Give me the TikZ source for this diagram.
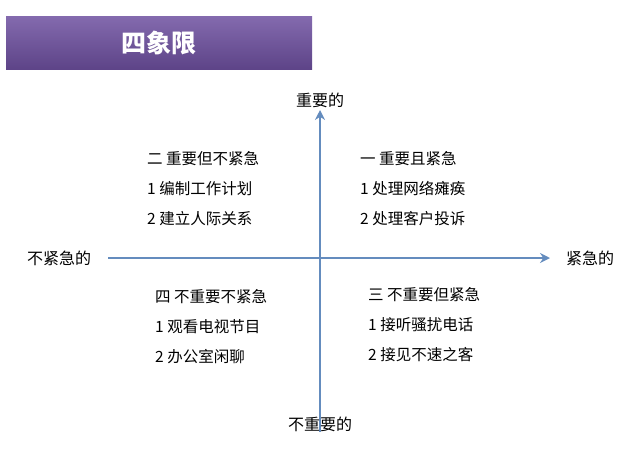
\documentclass[tikz,border=0pt]{standalone}
\usepackage{fontspec}
\newfontfamily\cjk{Noto Sans CJK SC}
\usetikzlibrary{arrows.meta}
\definecolor{axis}{RGB}{100,140,190}
\definecolor{ban}{RGB}{110,80,160}
\begin{document}
\begin{tikzpicture}[x=1pt,y=-1pt,
  lbl/.style={font=\cjk\fontsize{16}{18}\selectfont,text=black,inner sep=0pt},
  quad/.style={font=\cjk\fontsize{15.5}{30}\selectfont,align=left,anchor=north west,inner sep=0pt},
  ax/.style={draw=axis,line width=2pt,-{Stealth[length=10pt,width=10pt]}}]
\useasboundingbox (0,0) rectangle (644,448);
\shade[top color=ban!85!white,bottom color=ban!85!black] (6,16) rectangle (312,69);
\node[font=\cjk\bfseries\fontsize{25}{27}\selectfont,text=white] (title) at (159,43) {四象限};
\coordinate (L) at (108,258);
\coordinate (R) at (550,258);
\coordinate (B) at (320,432);
\coordinate (T) at (320,110);
\draw[ax] (L) -- (R);
\draw[ax] (B) -- (T);
\node[lbl] (top) at (320,100) {重要的};
\node[lbl] (bot) at (320,424) {不重要的};
\node[lbl] (left) at (59,258) {不紧急的};
\node[lbl] (right) at (590,258) {紧急的};
\node[quad] (q2) at (147,151) {二 重要但不紧急\\1 编制工作计划\\2 建立人际关系};
\node[quad] (q1) at (360,151) {一 重要且紧急\\1 处理网络瘫痪\\2 处理客户投诉};
\node[quad] (q4) at (155,289) {四 不重要不紧急\\1 观看电视节目\\2 办公室闲聊};
\node[quad] (q3) at (368,287) {三 不重要但紧急\\1 接听骚扰电话\\2 接见不速之客};
\end{tikzpicture}
\end{document}
